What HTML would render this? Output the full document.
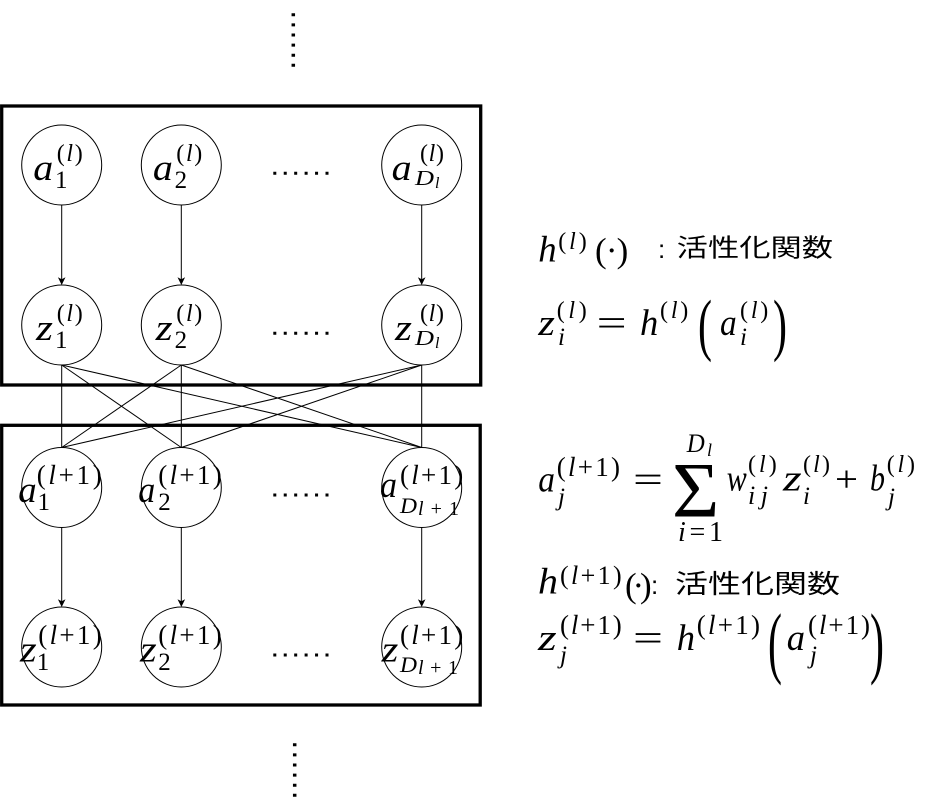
<!DOCTYPE html>
<html>
<head>
<meta charset="utf-8">
<style>
  html, body { margin: 0; padding: 0; background: #fff; }
  svg { display: block; }
  .i { font-family: "Liberation Serif", serif; font-style: italic; }
  .u { font-family: "Liberation Serif", serif; font-style: normal; }
  .s { font-family: "Liberation Sans", sans-serif; }
  .cjk { font-family: "Liberation Sans", "Noto Sans CJK JP", sans-serif; }
  text { fill: #000; }
</style>
</head>
<body>
<svg width="935" height="811" viewBox="0 0 935 811" xmlns="http://www.w3.org/2000/svg">
  <rect x="0" y="0" width="935" height="811" fill="#fff"/>

  <!-- vertical dotted ellipses -->
  <line x1="293.3" y1="13.3" x2="293.3" y2="67" stroke="#000" stroke-width="3.5" stroke-dasharray="3 7.1"/>
  <line x1="294.7" y1="743.3" x2="294.7" y2="797" stroke="#000" stroke-width="3.5" stroke-dasharray="3 7.1"/>

  <!-- boxes -->
  <rect x="1.7" y="106" width="479" height="279" fill="none" stroke="#000" stroke-width="3.3"/>
  <rect x="1.7" y="425.3" width="478.5" height="279.7" fill="none" stroke="#000" stroke-width="3.3"/>

  <!-- connections between layers -->
  <g stroke="#000" stroke-width="1" fill="none">
    <line x1="61.7" y1="365" x2="61.7" y2="447.5"/>
    <line x1="61.7" y1="365" x2="181.3" y2="447.5"/>
    <line x1="61.7" y1="365" x2="421.7" y2="447.5"/>
    <line x1="181.3" y1="365" x2="61.7" y2="447.5"/>
    <line x1="181.3" y1="365" x2="181.3" y2="447.5"/>
    <line x1="181.3" y1="365" x2="421.7" y2="447.5"/>
    <line x1="421.7" y1="365" x2="61.7" y2="447.5"/>
    <line x1="421.7" y1="365" x2="181.3" y2="447.5"/>
    <line x1="421.7" y1="365" x2="421.7" y2="447.5"/>
  </g>

  <!-- arrows inside boxes -->
  <g stroke="#000" stroke-width="1">
    <line x1="61.7" y1="205" x2="61.7" y2="280"/>
    <line x1="181.3" y1="205" x2="181.3" y2="280"/>
    <line x1="421.7" y1="205" x2="421.7" y2="280"/>
    <line x1="61.7" y1="527.5" x2="61.7" y2="602"/>
    <line x1="181.3" y1="527.5" x2="181.3" y2="602"/>
    <line x1="421.7" y1="527.5" x2="421.7" y2="602"/>
  </g>
  <g fill="#000">
    <path d="M61.7 285 L57.9 277.2 L61.7 279.2 L65.5 277.2 Z"/>
    <path d="M181.3 285 L177.5 277.2 L181.3 279.2 L185.1 277.2 Z"/>
    <path d="M421.7 285 L417.9 277.2 L421.7 279.2 L425.5 277.2 Z"/>
    <path d="M61.7 607 L57.9 599.2 L61.7 601.2 L65.5 599.2 Z"/>
    <path d="M181.3 607 L177.5 599.2 L181.3 601.2 L185.1 599.2 Z"/>
    <path d="M421.7 607 L417.9 599.2 L421.7 601.2 L425.5 599.2 Z"/>
  </g>

  <!-- circles -->
  <g fill="none" stroke="#000" stroke-width="1">
    <circle cx="61.7" cy="165" r="40"/>
    <circle cx="181.3" cy="165" r="40"/>
    <circle cx="421.7" cy="165" r="40"/>
    <circle cx="61.7" cy="325" r="40"/>
    <circle cx="181.3" cy="325" r="40"/>
    <circle cx="421.7" cy="325" r="40"/>
    <circle cx="61.7" cy="487.5" r="40"/>
    <circle cx="181.3" cy="487.5" r="40"/>
    <circle cx="421.7" cy="487.5" r="40"/>
    <circle cx="61.7" cy="647" r="40"/>
    <circle cx="181.3" cy="647" r="40"/>
    <circle cx="421.7" cy="647" r="40"/>
  </g>

  <!-- horizontal dots -->
  <g stroke="#000" stroke-width="3" stroke-dasharray="3 7.44">
    <line x1="273.3" y1="173.3" x2="328.5" y2="173.3"/>
    <line x1="273.3" y1="333.3" x2="328.5" y2="333.3"/>
    <line x1="273.3" y1="495" x2="328.5" y2="495"/>
    <line x1="273.3" y1="655" x2="328.5" y2="655"/>
  </g>

  <!-- ===== Box 1 labels ===== -->
  <text class="i" x="33.3" y="180" font-size="37" textLength="20" lengthAdjust="spacingAndGlyphs">a</text>
  <text class="u" x="55" y="188" font-size="25">1</text>
  <text class="u" x="56.7" y="161" font-size="24" textLength="26" lengthAdjust="spacing">(<tspan class="i">l</tspan>)</text>

  <text class="i" x="152.9" y="180" font-size="37" textLength="20" lengthAdjust="spacingAndGlyphs">a</text>
  <text class="u" x="174.6" y="188" font-size="25">2</text>
  <text class="u" x="176.3" y="161" font-size="24" textLength="26" lengthAdjust="spacing">(<tspan class="i">l</tspan>)</text>

  <text class="i" x="391.7" y="180" font-size="37" textLength="20" lengthAdjust="spacingAndGlyphs">a</text>
  <text class="u" x="420" y="161" font-size="24" textLength="24" lengthAdjust="spacing">(<tspan class="i">l</tspan>)</text>
  <text class="i" x="415" y="185" font-size="21" textLength="19" lengthAdjust="spacingAndGlyphs">D</text>
  <text class="i" x="435" y="188" font-size="16">l</text>

  <text class="i" x="36" y="340" font-size="37" textLength="17" lengthAdjust="spacingAndGlyphs">z</text>
  <text class="u" x="55" y="348" font-size="25">1</text>
  <text class="u" x="56.7" y="321" font-size="24" textLength="26" lengthAdjust="spacing">(<tspan class="i">l</tspan>)</text>

  <text class="i" x="155.6" y="340" font-size="37" textLength="17" lengthAdjust="spacingAndGlyphs">z</text>
  <text class="u" x="174.6" y="348" font-size="25">2</text>
  <text class="u" x="176.3" y="321" font-size="24" textLength="26" lengthAdjust="spacing">(<tspan class="i">l</tspan>)</text>

  <text class="i" x="395" y="340" font-size="37" textLength="17" lengthAdjust="spacingAndGlyphs">z</text>
  <text class="u" x="420" y="321" font-size="24" textLength="24" lengthAdjust="spacing">(<tspan class="i">l</tspan>)</text>
  <text class="i" x="415" y="345" font-size="21" textLength="19" lengthAdjust="spacingAndGlyphs">D</text>
  <text class="i" x="435" y="348" font-size="16">l</text>

  <!-- ===== Box 2 labels ===== -->
  <text class="i" x="18.3" y="502" font-size="37" textLength="18.4" lengthAdjust="spacingAndGlyphs">a</text>
  <text class="u" x="37.5" y="510" font-size="25">1</text>
  <text class="u" x="36.7" y="484" font-size="27" textLength="65" lengthAdjust="spacing">(<tspan class="i">l</tspan>+1)</text>

  <text class="i" x="138.3" y="502" font-size="37" textLength="17" lengthAdjust="spacingAndGlyphs">a</text>
  <text class="u" x="158.3" y="510" font-size="25">2</text>
  <text class="u" x="158.3" y="484" font-size="27" textLength="63.4" lengthAdjust="spacing">(<tspan class="i">l</tspan>+1)</text>

  <text class="i" x="380" y="497" font-size="37" textLength="17" lengthAdjust="spacingAndGlyphs">a</text>
  <text class="u" x="400" y="484" font-size="27" textLength="63.3" lengthAdjust="spacing">(<tspan class="i">l</tspan>+1)</text>
  <text class="i" x="400" y="513" font-size="22" textLength="17" lengthAdjust="spacingAndGlyphs">D</text>
  <text class="u" x="418" y="515" font-size="20" textLength="41" lengthAdjust="spacing"><tspan class="i">l</tspan>+1</text>

  <text class="i" x="20" y="661.7" font-size="37" textLength="16.7" lengthAdjust="spacingAndGlyphs">z</text>
  <text class="u" x="36.7" y="670" font-size="25">1</text>
  <text class="u" x="38.3" y="644" font-size="27" textLength="63.4" lengthAdjust="spacing">(<tspan class="i">l</tspan>+1)</text>

  <text class="i" x="140" y="661.7" font-size="37" textLength="16.7" lengthAdjust="spacingAndGlyphs">z</text>
  <text class="u" x="158.3" y="670" font-size="25">2</text>
  <text class="u" x="158.3" y="644" font-size="27" textLength="63.4" lengthAdjust="spacing">(<tspan class="i">l</tspan>+1)</text>

  <text class="i" x="381.7" y="661.7" font-size="37" textLength="16.7" lengthAdjust="spacingAndGlyphs">z</text>
  <text class="u" x="400" y="644" font-size="27" textLength="63.3" lengthAdjust="spacing">(<tspan class="i">l</tspan>+1)</text>
  <text class="i" x="400" y="672" font-size="22" textLength="17" lengthAdjust="spacingAndGlyphs">D</text>
  <text class="u" x="418" y="674" font-size="20" textLength="40" lengthAdjust="spacing"><tspan class="i">l</tspan>+1</text>

  <!-- ===== Right-side equations ===== -->
  <text class="i" x="538.3" y="261.7" font-size="37" textLength="18.4" lengthAdjust="spacingAndGlyphs">h</text>
  <text class="u" x="558.3" y="249" font-size="24" textLength="28.4" lengthAdjust="spacing">(<tspan class="i">l</tspan>)</text>
  <text class="u" x="595" y="262" font-size="35" textLength="33.3" lengthAdjust="spacing">(·)</text>
  <text class="s" x="658" y="258" font-size="26">:</text>
  <text class="cjk" x="676.7" y="256.5" font-size="25" textLength="156.3" lengthAdjust="spacingAndGlyphs">活性化関数</text>

  <text class="i" x="538.3" y="335" font-size="37" textLength="16.7" lengthAdjust="spacingAndGlyphs">z</text>
  <text class="u" x="556.7" y="318" font-size="24" textLength="30" lengthAdjust="spacing">(<tspan class="i">l</tspan>)</text>
  <text class="i" x="558" y="345" font-size="25">i</text>
  <text class="u" x="596.7" y="335" font-size="37" textLength="30" lengthAdjust="spacingAndGlyphs">=</text>
  <text class="i" x="640" y="335" font-size="37" textLength="18.3" lengthAdjust="spacingAndGlyphs">h</text>
  <text class="u" x="660" y="318" font-size="24" textLength="28.3" lengthAdjust="spacing">(<tspan class="i">l</tspan>)</text>
  <text class="u" font-size="42" transform="translate(698,347.5) scale(1,1.65)">(</text>
  <text class="i" x="720" y="335" font-size="37" textLength="16.7" lengthAdjust="spacingAndGlyphs">a</text>
  <text class="u" x="740" y="318" font-size="24" textLength="28.3" lengthAdjust="spacing">(<tspan class="i">l</tspan>)</text>
  <text class="i" x="740" y="345" font-size="25">i</text>
  <text class="u" font-size="42" transform="translate(773,347.5) scale(1,1.65)">)</text>

  <text class="i" x="538.3" y="491.7" font-size="37" textLength="16.7" lengthAdjust="spacingAndGlyphs">a</text>
  <text class="u" x="556.7" y="476" font-size="27" textLength="63.3" lengthAdjust="spacing">(<tspan class="i">l</tspan>+1)</text>
  <text class="i" x="558" y="505" font-size="25">j</text>
  <text class="u" x="633" y="491.7" font-size="37" textLength="30" lengthAdjust="spacingAndGlyphs">=</text>
  <text class="u" font-size="56" transform="translate(672,516.7) scale(1.45,1.4)">Σ</text>
  <text class="i" x="686.7" y="452" font-size="26" textLength="18" lengthAdjust="spacingAndGlyphs">D</text>
  <text class="i" x="707" y="456" font-size="18">l</text>
  <text class="u" x="678" y="541" font-size="28" textLength="45" lengthAdjust="spacing"><tspan class="i">i</tspan>=1</text>
  <text class="i" x="726.7" y="490.5" font-size="37" textLength="20" lengthAdjust="spacingAndGlyphs">w</text>
  <text class="u" x="748" y="472" font-size="24" textLength="28.7" lengthAdjust="spacing">(<tspan class="i">l</tspan>)</text>
  <text class="i" x="748" y="504" font-size="26" textLength="20" lengthAdjust="spacing">ij</text>
  <text class="i" x="783" y="490.5" font-size="37" textLength="18.7" lengthAdjust="spacingAndGlyphs">z</text>
  <text class="u" x="803" y="472" font-size="24" textLength="27" lengthAdjust="spacing">(<tspan class="i">l</tspan>)</text>
  <text class="i" x="803" y="504" font-size="25">i</text>
  <text class="u" x="835" y="491.7" font-size="37" textLength="23" lengthAdjust="spacingAndGlyphs">+</text>
  <text class="i" x="870" y="490.5" font-size="37" textLength="15" lengthAdjust="spacingAndGlyphs">b</text>
  <text class="u" x="886.7" y="472" font-size="24" textLength="28.3" lengthAdjust="spacing">(<tspan class="i">l</tspan>)</text>
  <text class="i" x="888" y="505" font-size="25">j</text>

  <text class="i" x="538" y="593.3" font-size="37" textLength="20" lengthAdjust="spacingAndGlyphs">h</text>
  <text class="u" x="560" y="584" font-size="26" textLength="61.7" lengthAdjust="spacing">(<tspan class="i">l</tspan>+1)</text>
  <text class="u" x="625" y="597" font-size="35" textLength="26.7" lengthAdjust="spacing">(·)</text>
  <text class="s" x="651" y="594" font-size="26">:</text>
  <text class="cjk" x="675" y="593" font-size="26" textLength="165" lengthAdjust="spacingAndGlyphs">活性化関数</text>

  <text class="i" x="538" y="650" font-size="37" textLength="18.7" lengthAdjust="spacingAndGlyphs">z</text>
  <text class="u" x="560" y="634" font-size="27" textLength="61.7" lengthAdjust="spacing">(<tspan class="i">l</tspan>+1)</text>
  <text class="i" x="560" y="663" font-size="25">j</text>
  <text class="u" x="633" y="650" font-size="37" textLength="30" lengthAdjust="spacingAndGlyphs">=</text>
  <text class="i" x="676.7" y="650" font-size="37" textLength="18.3" lengthAdjust="spacingAndGlyphs">h</text>
  <text class="u" x="696.7" y="634" font-size="27" textLength="63.3" lengthAdjust="spacing">(<tspan class="i">l</tspan>+1)</text>
  <text class="u" font-size="42" transform="translate(768,668.6) scale(1,1.9)">(</text>
  <text class="i" x="786.7" y="650" font-size="37" textLength="18.3" lengthAdjust="spacingAndGlyphs">a</text>
  <text class="u" x="808" y="634" font-size="27" textLength="62" lengthAdjust="spacing">(<tspan class="i">l</tspan>+1)</text>
  <text class="i" x="810" y="663" font-size="25">j</text>
  <text class="u" font-size="42" transform="translate(870,668.6) scale(1,1.9)">)</text>
</svg>
</body>
</html>
